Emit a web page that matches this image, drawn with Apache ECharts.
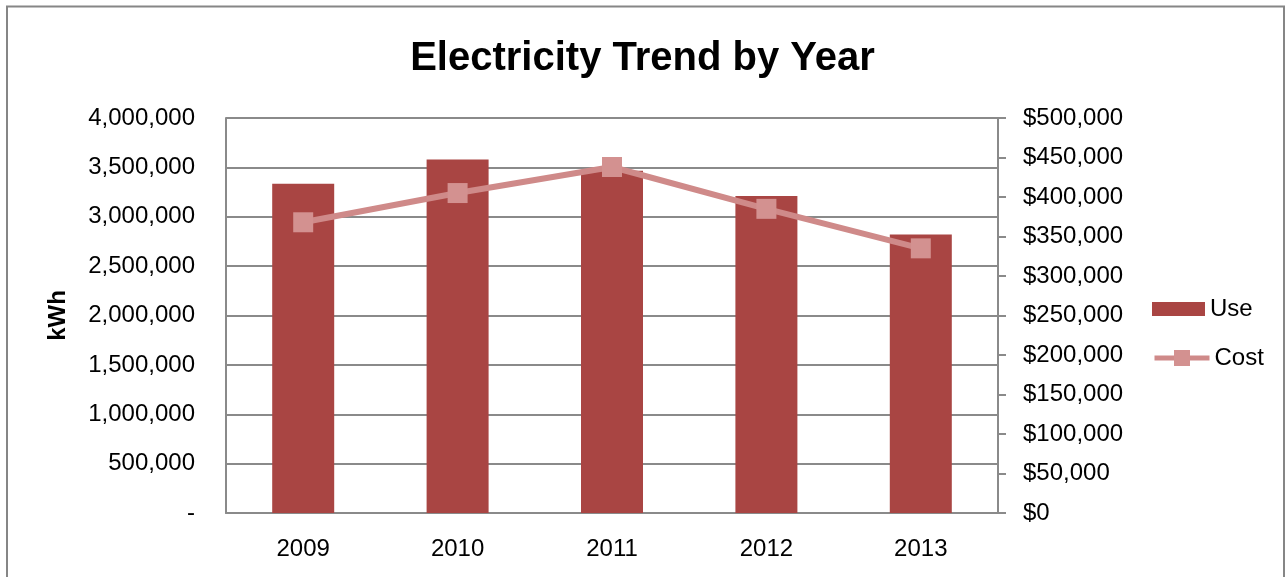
<!DOCTYPE html>
<html>
<head>
<meta charset="utf-8">
<script src="https://cdn.jsdelivr.net/npm/echarts@6/dist/echarts.min.js"></script>
<style>html,body{margin:0;padding:0;background:#fff;}#c{width:1285px;height:577px;}</style>
</head>
<body>
<div id="c"></div>
<script>
var years = ['2009', '2010', '2011', '2012', '2013'];
var useKwh = [3335000, 3580000, 3465000, 3210000, 2820000];
var costUsd = [368000, 405000, 438000, 385000, 335000];
var leftTicks = {min: 0, max: 4000000, interval: 500000};
var rightTicks = {min: 0, max: 500000, interval: 50000};

var FONT = 'Liberation Sans';
var GRAY = '#8a8a8a';
function fmt(v) { return String(v).replace(/\B(?=(\d{3})+(?!\d))/g, ','); }

var chart = echarts.init(document.getElementById('c'));
chart.setOption({
  animation: false,
  textStyle: {fontFamily: FONT},
  title: {
    text: 'Electricity Trend by Year',
    left: 'center', top: 39, padding: 0,
    textStyle: {fontFamily: FONT, fontWeight: 'bold', fontSize: 40, color: '#000'}
  },
  graphic: [{
    type: 'rect', silent: true,
    shape: {x: 7, y: 6.5, width: 1277, height: 700},
    style: {fill: 'none', stroke: '#868686', lineWidth: 2}
  }],
  legend: [{
    data: ['Use'], orient: 'vertical', left: 1152, top: 297, padding: 0,
    itemWidth: 53, itemHeight: 14, icon: 'rect', itemGap: 0,
    textStyle: {fontFamily: FONT, fontSize: 24, color: '#000'}
  }, {
    data: ['Cost'], orient: 'vertical', left: 1152, top: 346, padding: 0,
    itemWidth: 55, itemHeight: 20,
    lineStyle: {width: 5},
    textStyle: {fontFamily: FONT, fontSize: 24, color: '#000'}
  }],
  grid: {left: 226, right: 287, top: 118, bottom: 64, containLabel: false},
  xAxis: {
    type: 'category', data: years,
    axisLine: {show: true, lineStyle: {color: GRAY, width: 2}},
    axisTick: {show: false},
    axisLabel: {fontFamily: FONT, fontSize: 24, color: '#000', margin: 24}
  },
  yAxis: [{
    type: 'value', min: leftTicks.min, max: leftTicks.max, interval: leftTicks.interval,
    name: 'kWh', nameLocation: 'middle', nameGap: 156, nameRotate: 90,
    nameTextStyle: {fontFamily: FONT, fontSize: 24, fontWeight: 'bold', color: '#000'},
    axisLine: {show: true, lineStyle: {color: GRAY, width: 2}},
    axisTick: {show: false},
    splitLine: {show: true, lineStyle: {color: GRAY, width: 2}},
    axisLabel: {fontFamily: FONT, fontSize: 24, color: '#000', margin: 31,
      formatter: function (v) { return v === 0 ? '-' : fmt(v); }}
  }, {
    type: 'value', position: 'right', min: rightTicks.min, max: rightTicks.max, interval: rightTicks.interval,
    axisLine: {show: true, lineStyle: {color: GRAY, width: 2}},
    axisTick: {show: true, inside: false, length: 8, lineStyle: {color: GRAY, width: 2}},
    splitLine: {show: false},
    axisLabel: {fontFamily: FONT, fontSize: 24, color: '#000', margin: 25, align: 'left',
      formatter: function (v) { return '$' + fmt(v); }}
  }],
  series: [{
    name: 'Use', type: 'bar', yAxisIndex: 0, data: useKwh,
    barWidth: 62,
    itemStyle: {color: '#A94543'}
  }, {
    name: 'Cost', type: 'line', yAxisIndex: 1, data: costUsd,
    symbol: 'rect', symbolSize: 20,
    lineStyle: {color: '#CF8A89', width: 6},
    itemStyle: {color: '#D39190', borderWidth: 0}
  }]
});
</script>
</body>
</html>
